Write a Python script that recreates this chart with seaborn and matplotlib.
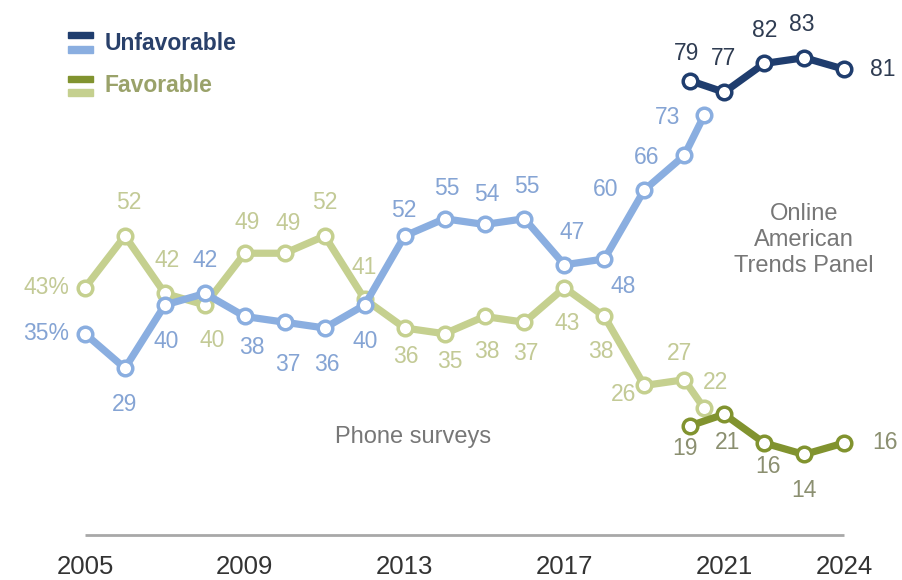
import pandas as pd
import matplotlib
matplotlib.use("Agg")
import matplotlib.pyplot as plt
from matplotlib.patches import Rectangle
import seaborn as sns

# values
phone_years = [2005, 2006, 2007, 2008, 2009, 2010, 2011, 2012, 2013, 2014,
               2015, 2016, 2017, 2018, 2019, 2020, 2020.5]
phone_unfav = [35, 29, 40, 42, 38, 37, 36, 40, 52, 55, 54, 55, 47, 48, 60, 66, 73]
phone_fav = [43, 52, 42, 40, 49, 49, 52, 41, 36, 35, 38, 37, 43, 38, 26, 27, 22]

online_years = [2020.15, 2021, 2022, 2023, 2024]
online_unfav = [79, 77, 82, 83, 81]
online_fav = [19, 21, 16, 14, 16]

year_ticks = [2005, 2009, 2013, 2017, 2021, 2024]

# label offsets in pixels (dx, dy up)
off_phone_unfav = [(-39, 0), (0, -36), (1, -37), (0, 33), (7, -31), (3, -42), (2, -37),
                   (1, -37), (-1, 25), (2, 30), (2, 30), (2, 32), (8, 32), (19, -28),
                   (-39, 0), (-38, -2), (-37, -2)]
off_online_unfav = [(-4, 27), (-1, 34), (1, 33), (-2, 33), (39, 0)]
off_phone_fav = [(-39, 0), (4, 33), (2, 33), (7, -36), (2, 31), (3, 30), (0, 33), (0, 32),
                 (1, -29), (5, -28), (2, -35), (1, -31), (3, -36), (-4, -35), (-21, -9),
                 (-5, 26), (11, 26)]
off_online_fav = [(-5, -23), (3, -28), (4, -24), (0, -36), (41, 0)]

C_DARK_BLUE = "#1f3d6e"
C_LIGHT_BLUE = "#8aaee0"
C_DARK_OLIVE = "#81932f"
C_LIGHT_OLIVE = "#c5d08f"

sns.set_style("white")
plt.rcParams['font.family'] = ['Liberation Sans', 'DejaVu Sans']

fig = plt.figure(figsize=(9.03, 5.80), dpi=100)
ax = fig.add_axes([0, 0, 1, 1])
ax.set_xlim(2002.872, 2025.475)
ax.set_ylim(-7.83, 93.04)
ax.axis("off")

series = [
    (phone_years, phone_fav, C_LIGHT_OLIVE, "#c3ca96", off_phone_fav),
    (phone_years, phone_unfav, C_LIGHT_BLUE, "#85a4d4", off_phone_unfav),
    (online_years, online_fav, C_DARK_OLIVE, "#8b8f70", off_online_fav),
    (online_years, online_unfav, C_DARK_BLUE, "#2f3c52", off_online_unfav),
]

for xs, ys, col, lab_col, offs in series:
    df = pd.DataFrame({"year": xs, "value": ys})
    sns.lineplot(data=df, x="year", y="value", ax=ax, color=col, linewidth=5.2,
                 marker="o", markersize=10.5, markerfacecolor="white",
                 markeredgecolor=col, markeredgewidth=2.5)
    for i, (x, y) in enumerate(zip(xs, ys)):
        txt = f"{y}%" if i == 0 and x == 2005 else str(y)
        ax.annotate(txt, (x, y), xytext=offs[i], textcoords="offset pixels",
                    ha="center", va="center", fontsize=16.5, color=lab_col)

# baseline and year labels
ax.plot([2005, 2024], [0, 0], color="#a8a8a8", linewidth=2, solid_capstyle="butt")
for yr in year_ticks:
    ax.text(yr, -5.5, str(yr), ha="center", va="center", fontsize=18.5, color="#333333")

ax.text(2013.2, 17, "Phone surveys", ha="center", va="center", fontsize=17, color="#777777")
ax.text(2023.0, 51.3, "Online\nAmerican\nTrends Panel", ha="center", va="center",
        fontsize=17, color="#777777", linespacing=1.25)

# legend drawn by hand
def px_rect(x0, y0, w, h, col):
    fig.patches.append(Rectangle((x0 / 903, 1 - (y0 + h) / 580), w / 903, h / 580,
                                 transform=fig.transFigure, color=col, figure=fig))

px_rect(68, 32, 25, 6, C_DARK_BLUE)
px_rect(68, 46, 25, 7, C_LIGHT_BLUE)
px_rect(68, 76, 25, 6, C_DARK_OLIVE)
px_rect(68, 89, 25, 7, C_LIGHT_OLIVE)
fig.text(105 / 903, 1 - 43 / 580, "Unfavorable", ha="left", va="center", fontsize=16.5,
         fontweight="bold", color="#29406a")
fig.text(105 / 903, 1 - 86 / 580, "Favorable", ha="left", va="center", fontsize=16.5,
         fontweight="bold", color="#9aa26a")

fig.savefig("out.png", dpi=100)
